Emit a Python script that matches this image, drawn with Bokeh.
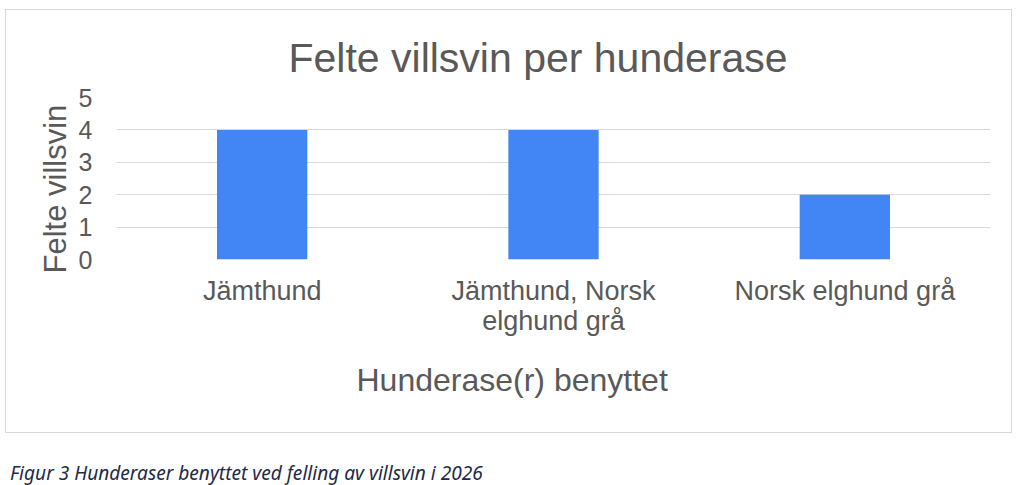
from bokeh.plotting import figure
from bokeh.models import Range1d, FactorRange, FixedTicker, Title, Div
from bokeh.layouts import column
from bokeh.embed import file_html
from bokeh.resources import INLINE

categories = ["Jämthund", "Jämthund, Norsk\nelghund grå", "Norsk elghund grå"]
counts = [4, 4, 2]
y_ticks = [0, 1, 2, 3, 4, 5]
title_text = "Felte villsvin per hunderase"
x_label = "Hunderase(r) benyttet"
y_label = "Felte villsvin"
caption_text = "Figur 3 Hunderaser benyttet ved felling av villsvin i 2026"

FONT = "Liberation Sans"
GREY = "#595959"

p = figure(width=1007, height=424, output_backend="svg", toolbar_location=None,
           x_range=FactorRange(factors=categories), y_range=Range1d(0, 5),
           min_border_left=110, min_border_right=23, min_border_top=87,
           min_border_bottom=175, tools="")
p.styles = {"border": "1px solid #d9d9d9"}
p.outline_line_color = None

p.vbar(x=categories, top=counts, width=0.31, fill_color="#4285F4", line_color=None)

p.title.text = title_text
p.title.align = "left"
p.title.offset = 172
p.title.text_font = FONT
p.title.text_font_size = "41px"
p.title.text_font_style = "normal"
p.title.text_color = GREY
p.title.standoff = 34

p.yaxis.ticker = FixedTicker(ticks=y_ticks)
p.yaxis.major_label_text_font = FONT
p.yaxis.major_label_text_font_size = "25px"
p.yaxis.major_label_text_color = GREY
p.yaxis.major_label_standoff = 18

p.xaxis.major_label_text_font = FONT
p.xaxis.major_label_text_font_size = "27px"
p.xaxis.major_label_text_color = GREY
p.xaxis.major_label_text_line_height = 1.0
p.xaxis.major_label_standoff = 10

for ax in (p.xaxis, p.yaxis):
    ax.axis_line_color = None
    ax.major_tick_line_color = None
    ax.minor_tick_line_color = None

ylab = Title(text=y_label, align="left", offset=-14, text_font=FONT,
             text_font_size="31px", text_font_style="normal", text_color=GREY,
             standoff=6)
p.add_layout(ylab, "left")

xlab = Title(text=x_label, align="left", offset=240, text_font=FONT,
             text_font_size="32px", text_font_style="normal", text_color=GREY,
             standoff=43)
p.add_layout(xlab, "below")

p.xgrid.grid_line_color = None
p.ygrid.grid_line_color = "#d9d9d9"
p.ygrid.grid_line_width = 1

cap = Div(text=caption_text, width=1009, height=48,
          styles={"font-family": "'Noto Sans'", "font-style": "italic",
                  "font-size": "19.1px", "color": "#1e2a47",
                  "padding-top": "25px", "padding-left": "0px",
                  "line-height": "20px", "white-space": "nowrap"})

layout = column(p, cap, spacing=0, margin=(9, 0, 0, 5))
open("out.html", "w").write(file_html(layout, INLINE))
